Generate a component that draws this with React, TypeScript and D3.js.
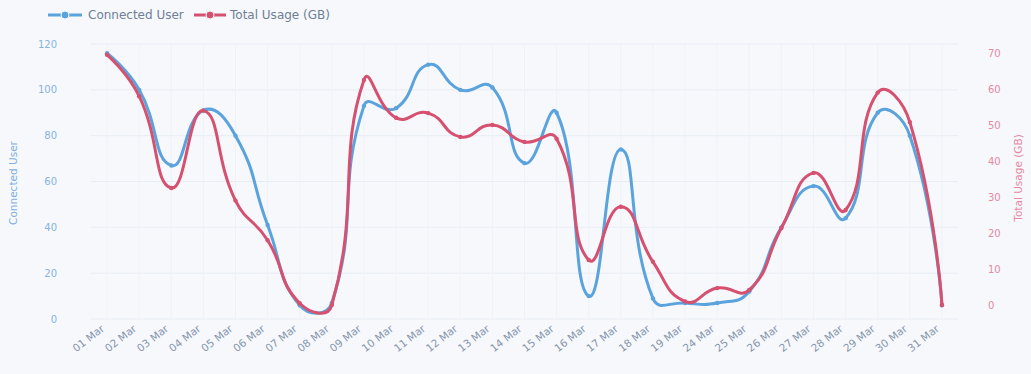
import React from "react";
import * as d3 from "d3";

const categories = [
  "01 Mar", "02 Mar", "03 Mar", "04 Mar", "05 Mar", "06 Mar", "07 Mar", "08 Mar", "09 Mar",
  "10 Mar", "11 Mar", "12 Mar", "13 Mar", "14 Mar", "15 Mar", "16 Mar", "17 Mar", "18 Mar",
  "19 Mar", "24 Mar", "25 Mar", "26 Mar", "27 Mar", "28 Mar", "29 Mar", "30 Mar", "31 Mar",
];

const connectedUser = [
  116, 100, 67, 91, 80, 41, 6, 7, 93,
  92, 111, 100, 101, 68, 90, 10, 74, 9,
  7, 7, 12, 40, 58, 44, 90, 80, 6,
];

const totalUsage = [
  69.5, 58, 32.5, 54, 29, 18, 0.5, 0, 62.5,
  52, 53.3, 46.7, 50, 45.3, 46.2, 12.5, 27.3, 12,
  1, 4.7, 4.2, 21.4, 36.7, 26.4, 59, 50.8, 0,
];

const leftTicks = [0, 20, 40, 60, 80, 100, 120];
const rightTicks = [0, 10, 20, 30, 40, 50, 60, 70];

const W = 1031;
const H = 374;
const BLUE = "#5ba3dd";
const RED = "#d6506f";
const FONT = "'DejaVu Sans', Verdana, sans-serif";

type P = [number, number];

// ECharts-like smooth bezier path (smooth = 0.5)
function smoothPath(pts: P[], smooth = 0.5): string {
  const p = d3.path();
  if (!pts.length) return "";
  p.moveTo(pts[0][0], pts[0][1]);
  let cp0: P = pts[0];
  for (let i = 1; i < pts.length; i++) {
    const cur = pts[i];
    const prev = pts[i - 1];
    const next = pts[i + 1];
    let cp1: P;
    let nextCp0: P = cur;
    if (!next) {
      cp1 = cur;
    } else {
      const vx = next[0] - prev[0];
      const vy = next[1] - prev[1];
      const lenPrev = Math.hypot(cur[0] - prev[0], cur[1] - prev[1]);
      const lenNext = Math.hypot(next[0] - cur[0], next[1] - cur[1]);
      const ratio = lenNext / (lenNext + lenPrev);
      cp1 = [cur[0] - vx * smooth * (1 - ratio), cur[1] - vy * smooth * (1 - ratio)];
      nextCp0 = [cur[0] + vx * smooth * ratio, cur[1] + vy * smooth * ratio];
    }
    p.bezierCurveTo(cp0[0], cp0[1], cp1[0], cp1[1], cur[0], cur[1]);
    cp0 = nextCp0;
  }
  return p.toString();
}

export default function App() {
  const x = d3.scaleBand<string>().domain(categories).range([91, 958]);
  const cx = (c: string) => (x(c) as number) + x.bandwidth() / 2;
  const yL = d3.scaleLinear().domain([0, 120]).range([319, 44]);
  const yR = d3.scaleLinear().domain([0, 70]).range([305, 53]);

  const bluePts: P[] = categories.map((c, i) => [cx(c), yL(connectedUser[i])]);
  const redPts: P[] = categories.map((c, i) => [cx(c), yR(totalUsage[i])]);

  return (
    <div style={{ position: "fixed", left: 0, top: 0 }}>
      <svg width={W} height={H} style={{ display: "block", background: "#f6f8fc" }}>
        {/* grid */}
        {leftTicks.map((t) => (
          <line key={"h" + t} x1={91} x2={958} y1={yL(t)} y2={yL(t)} stroke="#e8edf4" strokeWidth={1} />
        ))}
        {categories.map((c) => (
          <line key={"v" + c} x1={cx(c)} x2={cx(c)} y1={44} y2={319} stroke="#eef2f8" strokeWidth={1} />
        ))}

        {/* left axis labels */}
        {leftTicks.map((t) => (
          <text key={"l" + t} x={57} y={yL(t)} dy="0.35em" textAnchor="end" fontSize={10} fill="#86b4df" fontFamily={FONT}>
            {t}
          </text>
        ))}
        <text
          transform={`translate(17,${183}) rotate(-90)`}
          textAnchor="middle"
          fontSize={10.5}
          fill="#7fb0de"
          fontFamily={FONT}
        >
          Connected User
        </text>

        {/* right axis labels */}
        {rightTicks.map((t) => (
          <text key={"r" + t} x={988} y={yR(t)} dy="0.35em" textAnchor="start" fontSize={10} fill="#e48aa2" fontFamily={FONT}>
            {t}
          </text>
        ))}
        <text
          transform={`translate(1022,${178}) rotate(-90)`}
          textAnchor="middle"
          fontSize={10.5}
          fill="#e58aa3"
          fontFamily={FONT}
        >
          Total Usage (GB)
        </text>

        {/* x labels */}
        {categories.map((c) => (
          <text
            key={"x" + c}
            transform={`translate(${cx(c) - 2},${330}) rotate(-38)`}
            textAnchor="end"
            fontSize={10.5}
            fill="#8797ad"
            fontFamily={FONT}
          >
            {c}
          </text>
        ))}

        {/* series */}
        <path d={smoothPath(bluePts)} fill="none" stroke={BLUE} strokeWidth={3} strokeLinejoin="round" />
        {bluePts.map((p, i) => (
          <circle key={"bp" + i} cx={p[0]} cy={p[1]} r={2.2} fill={BLUE} />
        ))}
        <path d={smoothPath(redPts)} fill="none" stroke={RED} strokeWidth={3} strokeLinejoin="round" />
        {redPts.map((p, i) => (
          <circle key={"rp" + i} cx={p[0]} cy={p[1]} r={2.2} fill={RED} />
        ))}

        {/* legend */}
        <line x1={48} x2={82} y1={15} y2={15} stroke={BLUE} strokeWidth={3} />
        <circle cx={65} cy={15} r={4} fill={BLUE} stroke="#f6f8fc" strokeWidth={1} />
        <text x={88} y={15} dy="0.35em" fontSize={12} fill="#6e7f96" fontFamily={FONT}>
          Connected User
        </text>
        <line x1={194} x2={226} y1={15} y2={15} stroke={RED} strokeWidth={3} />
        <circle cx={210} cy={15} r={4} fill={RED} stroke="#f6f8fc" strokeWidth={1} />
        <text x={230} y={15} dy="0.35em" fontSize={12} fill="#6e7f96" fontFamily={FONT}>
          Total Usage (GB)
        </text>
      </svg>
    </div>
  );
}
